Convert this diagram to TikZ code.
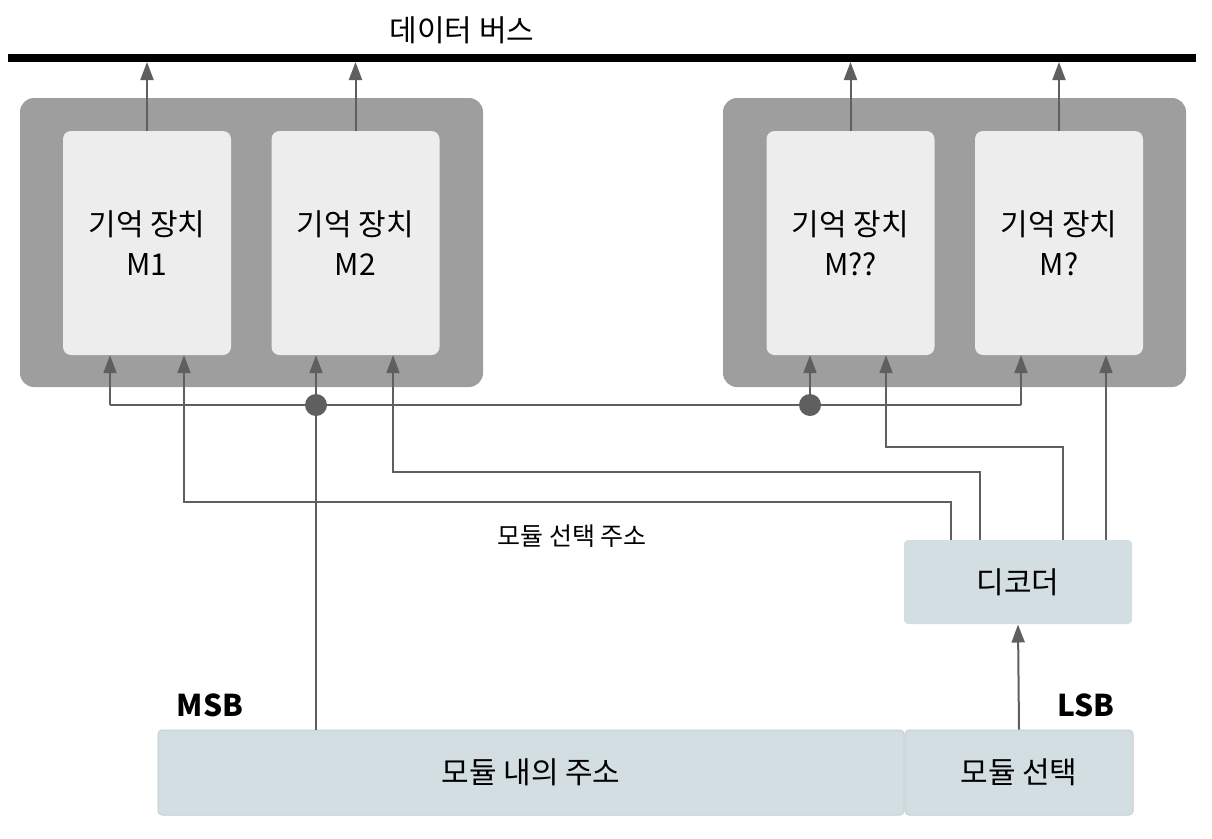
\documentclass[tikz,border=0pt]{standalone}
\usepackage{fontspec}
\setmainfont{Noto Sans CJK KR}
\usetikzlibrary{arrows.meta,positioning}

\definecolor{wiregray}{HTML}{5F5F5F}
\definecolor{modgray}{HTML}{9E9E9E}
\definecolor{memfill}{HTML}{EDEDED}
\definecolor{addrfill}{HTML}{D3DEE3}

\begin{document}
\begin{tikzpicture}[x=1pt,y=-1pt,>={Triangle[length=18pt,width=13pt]},font=\fontsize{30}{40}\selectfont]
\tikzstyle{module}=[fill=modgray,rounded corners=14pt,minimum width=463pt,minimum height=289pt]
\tikzstyle{memory}=[fill=memfill,rounded corners=8pt,minimum width=168pt,minimum height=224pt,align=center,inner sep=0pt]
\tikzstyle{addr}=[fill=addrfill,draw=addrfill!85!gray,line width=1pt,rounded corners=4pt,minimum height=85pt,inner sep=0pt]
\tikzstyle{wire}=[draw=wiregray,line width=2pt]
\tikzstyle{junction}=[circle,fill=wiregray,inner sep=0pt,minimum size=22pt]
\useasboundingbox (0,0) rectangle (1212,838);

% data bus
\coordinate (busL) at (8,58);
\coordinate (busR) at (1196,58);
\coordinate (busedge) at (0,62);
\draw[line width=8pt] (busL) -- (busR);
\node (bus) at (462,30) {데이터 버스};

% modules
\node[module] (modL) at (251.5,242.5) {};
\node[module] (modR) at (954.5,242.5) {};
\node[memory] (m1) at (147,243) {기억 장치\\M1};
\node[memory] (m2) at (355.5,243) {기억 장치\\M2};
\node[memory] (mqq) at (850.5,243) {기억 장치\\M??};
\node[memory] (mq) at (1059,243) {기억 장치\\M?};

\foreach \m in {m1,m2,mqq,mq}
  \draw[wire,->] (\m.north) -- (\m.north |- busedge);

% address
\node[addr,minimum width=746pt] (inaddr) at (531,772.5) {모듈 내의 주소};
\node[addr,minimum width=228pt] (seladdr) at (1019,772.5) {모듈 선택};
\node[font=\fontsize{30}{34}\selectfont\bfseries] (msb) at (210,705) {MSB};
\node[font=\fontsize{30}{34}\selectfont\bfseries] (lsb) at (1086,705) {LSB};

\node[addr,draw=none,minimum width=228pt,minimum height=84pt] (dec) at (1018,582) {디코더};
\node[font=\fontsize{25}{30}\selectfont] (sellabel) at (572,536) {모듈 선택 주소};

% address lines
\coordinate (aL) at (110,405);
\coordinate (aR) at (1021,405);
\node[junction] (j1) at (316,405) {};
\node[junction] (j2) at (810,405) {};
\draw[wire] (aL) -- (aR);
\draw[wire,->] (aL) -- (aL |- m1.south);
\draw[wire,->] (aR) -- (aR |- mq.south);
\draw[wire,->] (j1.center) -- (j1 |- m2.south);
\draw[wire,->] (j2.center) -- (j2 |- mqq.south);
\draw[wire] (j1.center) -- (j1 |- inaddr.north);

% decoder outputs
\draw[wire,->] (seladdr.north) -- (dec.south);
\draw[wire,->] ([xshift=-67pt]dec.north) -- ++(0,-38) -| ([xshift=37pt]m1.south);
\draw[wire,->] ([xshift=-38pt]dec.north) -- ++(0,-68) -| ([xshift=37.5pt]m2.south);
\draw[wire,->] ([xshift=45pt]dec.north) -- ++(0,-93) -| ([xshift=35.5pt]mqq.south);
\draw[wire,->] ([xshift=88pt]dec.north) -- ([xshift=88pt]dec.north |- mq.south);
\end{tikzpicture}
\end{document}
